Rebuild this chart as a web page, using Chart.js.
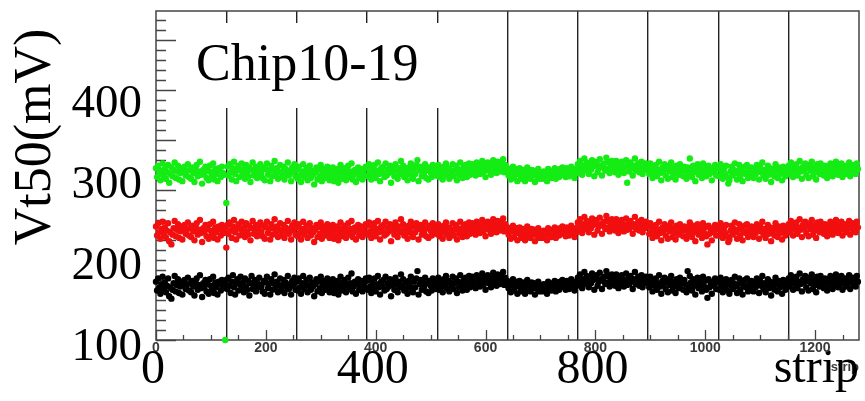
<!DOCTYPE html>
<html>
<head>
<meta charset="utf-8">
<title>Vt50 per strip</title>
<script src="https://cdn.jsdelivr.net/npm/chart.js@4.4.1/dist/chart.umd.min.js"></script>
<style>
  html, body { margin: 0; padding: 0; background: #fff; }
  #wrap { width: 865px; height: 401px; }
</style>
</head>
<body>
<div id="wrap"><canvas id="vt50Chart" width="865" height="401"></canvas></div>
<script>
// Vt50 (mV) measured on every second strip, 10 chips x 128 strips
const STRIP_STEP = 2;

const green = [
  312,301,315,305,297,309,318,303,311,299,307,316,294,305,313,302,310,319,300,308,315,298,306,312,296,309,314,303,308,317,301,310,
  299,313,306,295,311,316,302,308,320,304,293,310,305,314,300,309,297,315,307,303,318,298,311,305,296,312,309,301,314,306,304,100,
  269,314,303,317,307,298,312,320,305,296,310,315,301,309,318,304,311,299,316,306,302,313,295,310,319,303,308,314,300,311,305,317,
  306,300,313,297,311,318,304,309,296,315,302,310,321,305,312,299,308,316,301,307,314,298,311,305,319,303,309,296,313,307,317,302,
  310,299,314,303,295,308,317,301,306,312,297,305,315,300,309,304,292,307,313,298,310,302,316,296,306,311,300,308,314,303,297,309,
  302,313,296,307,300,311,294,305,316,299,309,303,312,297,306,315,301,308,318,298,304,310,295,307,313,300,305,311,298,309,303,314,
  313,302,317,306,298,311,304,316,300,309,319,305,296,312,307,314,301,318,303,310,306,315,294,308,313,302,317,309,299,312,305,321,
  307,315,301,311,304,297,313,308,318,303,299,312,305,316,322,296,309,314,302,311,306,317,300,310,298,313,307,301,316,305,311,303,
  308,316,301,311,305,298,314,308,318,303,312,299,310,306,317,302,309,315,297,311,304,319,308,300,313,306,316,301,310,318,304,312,
  317,308,314,303,319,310,315,305,312,321,307,316,301,313,319,309,317,304,314,322,310,316,306,320,313,308,318,311,323,307,316,312,
  312,303,309,298,307,314,300,306,311,296,305,312,299,306,310,301,296,307,313,300,305,299,310,303,309,295,306,302,311,299,307,304,
  299,308,302,306,296,311,303,307,300,309,304,312,299,306,310,301,311,304,313,306,309,301,312,306,302,310,314,304,308,300,311,306,
  317,308,321,311,304,315,324,309,319,313,305,318,310,322,314,302,316,320,307,312,323,315,303,313,318,309,325,311,319,306,314,321,
  311,318,307,321,313,304,317,310,320,315,306,313,322,294,316,308,319,312,303,315,324,309,314,318,307,312,320,305,316,310,318,312,
  314,305,318,308,300,312,307,316,302,310,320,306,297,313,309,317,303,311,299,315,308,319,301,312,306,298,315,310,304,317,309,313,
  302,314,309,299,313,305,324,311,301,315,307,296,310,317,304,312,308,300,318,306,313,302,310,315,305,309,297,312,307,316,303,311,
  313,302,317,307,299,311,305,315,301,293,297,308,314,303,310,318,306,298,309,316,302,311,296,307,314,305,316,300,309,303,313,308,
  300,311,305,316,309,298,313,307,319,303,310,299,308,315,304,312,295,307,311,302,317,309,300,313,305,310,297,314,307,302,312,309,
  315,305,319,310,301,313,308,317,303,311,321,308,299,314,310,318,304,312,300,316,309,320,302,313,307,298,317,311,305,318,309,314,
  303,315,309,300,314,306,318,311,302,316,308,320,312,304,314,308,318,301,311,315,305,313,309,319,302,311,316,307,313,305,318,311
];

const red = [
  240,229,244,233,225,237,246,231,239,227,235,244,222,233,218,230,238,247,228,236,243,226,234,240,224,237,242,231,236,245,229,238,
  227,241,234,223,239,244,230,236,248,232,221,238,233,242,228,237,225,243,235,231,246,226,239,233,224,240,237,229,242,234,232,238,
  214,242,231,245,235,226,240,248,233,224,238,243,229,237,246,232,239,227,244,234,230,241,223,238,247,231,236,242,228,239,233,245,
  234,228,241,225,239,246,232,237,224,243,230,238,249,233,240,227,236,244,229,235,242,226,239,233,247,231,237,224,241,235,245,230,
  239,228,243,232,224,237,246,230,235,241,226,234,244,229,238,233,221,236,242,227,239,231,245,225,235,240,229,237,243,232,226,238,
  231,242,225,236,229,240,223,234,245,228,238,232,241,226,235,244,230,237,247,227,233,239,224,236,242,229,234,240,227,238,232,243,
  241,230,245,234,226,239,232,244,228,237,247,233,224,240,235,242,229,246,231,238,234,243,222,236,241,230,245,237,227,240,233,249,
  235,243,229,239,232,225,241,236,246,231,227,240,233,244,238,224,237,242,230,239,234,245,228,238,226,241,235,229,244,233,239,231,
  235,243,228,238,232,225,241,235,245,230,239,226,237,233,244,229,236,242,224,238,231,246,235,227,240,233,243,228,237,245,231,239,
  244,235,241,230,246,237,242,232,239,248,234,243,228,240,246,236,244,231,241,249,237,243,233,247,240,235,245,238,250,234,243,239,
  239,230,236,225,234,241,227,233,238,223,232,239,226,233,237,228,223,234,240,227,232,226,237,230,236,222,233,229,238,226,234,231,
  226,235,229,233,223,238,230,234,227,236,231,239,226,233,237,229,238,231,240,233,236,228,239,233,229,237,241,231,235,227,238,233,
  245,236,249,239,232,243,252,237,247,241,233,246,238,250,242,230,244,248,235,240,251,243,231,241,246,237,253,239,247,234,242,249,
  239,246,235,249,241,232,245,238,248,243,234,241,250,236,244,237,247,240,231,243,252,237,242,246,235,240,248,233,244,238,246,240,
  240,231,244,234,226,238,233,242,228,236,246,232,223,239,235,243,229,237,225,241,234,245,227,238,232,224,241,236,230,243,235,239,
  228,240,235,225,239,231,245,237,227,241,233,222,236,243,230,238,234,226,244,232,239,228,218,241,231,235,223,238,233,242,229,237,
  240,229,244,234,226,238,232,242,228,221,224,235,241,230,237,245,233,225,236,243,229,238,223,234,241,232,243,227,236,230,240,235,
  227,238,232,243,236,225,240,234,246,230,237,226,235,242,231,239,222,234,238,229,244,236,227,240,232,237,224,241,234,229,239,236,
  243,233,247,238,229,241,236,245,231,239,249,236,227,242,238,246,232,240,228,244,237,248,230,241,235,226,245,239,233,246,237,242,
  231,243,237,228,242,234,246,239,230,244,236,248,240,232,242,236,246,229,239,243,233,241,237,247,230,239,244,235,241,233,246,239
];

const black = [
  172,161,176,165,157,169,178,163,171,159,167,176,154,165,151,162,170,179,160,168,175,158,166,172,156,169,174,163,168,177,161,170,
  159,173,166,155,171,176,162,168,180,164,153,170,165,174,160,169,157,175,167,163,178,158,171,165,156,172,169,161,174,166,164,170,
  174,163,177,167,158,172,180,165,156,170,175,161,169,178,164,171,159,176,166,162,173,155,170,179,163,168,174,160,171,165,177,168,
  166,160,173,157,171,178,164,169,156,175,162,170,181,165,172,159,168,176,161,167,174,158,171,165,179,163,169,156,173,167,177,162,
  172,161,176,165,157,170,179,163,168,174,159,167,177,162,171,166,154,169,175,160,172,164,178,158,168,173,162,170,176,165,159,171,
  164,175,158,169,162,173,156,167,178,161,171,165,174,159,168,177,163,170,182,160,166,172,157,169,175,162,167,173,160,171,165,176,
  173,162,177,166,158,171,164,176,160,169,179,165,156,172,167,174,161,178,163,170,166,175,154,168,173,162,177,169,159,172,165,181,
  167,175,161,171,164,157,173,168,178,163,159,172,165,176,185,156,169,174,162,171,166,177,160,170,158,173,167,161,176,165,171,163,
  169,177,162,172,166,159,175,169,179,164,173,160,171,167,178,163,170,176,158,172,165,180,169,161,174,167,177,162,171,179,165,173,
  178,169,175,164,180,171,176,166,173,182,168,177,162,174,180,170,178,165,175,183,171,177,167,181,174,169,179,172,184,168,177,173,
  173,164,170,159,168,175,161,167,172,157,166,173,160,167,171,162,157,168,174,161,166,160,171,164,170,156,167,163,172,160,168,165,
  160,169,163,167,157,172,164,168,161,170,165,173,160,167,171,162,172,165,174,167,170,162,173,167,163,171,175,165,169,161,172,167,
  177,168,181,171,164,175,184,169,179,173,165,178,170,182,174,162,176,180,167,172,183,175,163,173,178,169,185,171,179,166,174,181,
  171,178,167,181,173,164,177,170,180,175,166,173,182,168,176,169,179,172,163,175,184,169,174,178,167,172,180,165,176,170,178,172,
  174,165,178,168,160,172,167,176,162,170,180,166,157,173,169,177,163,171,159,175,168,179,161,172,166,158,175,170,164,177,169,173,
  162,174,169,159,185,165,179,171,161,175,167,156,170,177,164,172,168,160,178,166,173,162,152,175,165,169,157,172,167,176,163,171,
  173,162,177,167,159,171,165,175,161,169,157,168,174,163,170,178,166,158,169,176,162,171,156,167,174,165,176,160,169,163,173,168,
  160,171,165,176,169,158,173,167,179,163,170,159,168,175,164,172,155,167,171,162,177,169,160,173,165,170,157,174,167,162,172,169,
  176,166,180,171,162,174,169,178,164,172,182,169,160,175,171,179,165,173,161,177,170,181,163,174,168,159,178,172,166,179,170,175,
  164,176,170,161,175,167,179,172,163,177,169,181,173,165,175,169,179,162,172,176,166,174,170,180,163,172,177,168,174,166,179,172
];

// axis ticks
const yTickLabels = [100, 200, 300, 400];
const xSmallTicks = [0, 200, 400, 600, 800, 1000, 1200];
const xBigTicks = [0, 400, 800];
const chipEdges = [128, 256, 384, 512, 640, 768, 896, 1024, 1152];

const SERIF = '"Liberation Serif", "Times New Roman", serif';
const SANS = '"Liberation Sans", Arial, sans-serif';

function toPoints(values) {
  return values.map((v, i) => ({ x: i * STRIP_STEP, y: v }));
}

function setTicks(list) {
  return scale => { scale.ticks = list.map(v => ({ value: v })); };
}

const plainLabel = v => String(v);

// ROOT-like frame with inward ticks, drawn under the points
const frameTicks = {
  id: 'frameTicks',
  beforeDatasetsDraw(chart) {
    const { ctx, chartArea: a, scales } = chart;
    ctx.save();
    ctx.strokeStyle = '#444';
    ctx.lineWidth = 1.5;
    ctx.strokeRect(a.left, a.top, a.right - a.left, a.bottom - a.top);

    ctx.lineWidth = 1.3;
    ctx.beginPath();
    // y: 5 minor divisions per primary
    const yMinor = 12.35;
    for (let i = 0, v = scales.y.min; v <= scales.y.max; i++, v = scales.y.min + i * yMinor) {
      const py = Math.round(scales.y.getPixelForValue(v)) + 0.5;
      const len = i % 5 === 0 ? 20 : 10;
      ctx.moveTo(a.left, py);
      ctx.lineTo(a.left + len, py);
    }
    // x: majors every 200 strips, minors every 50
    for (let s = 0; s <= scales.x.max; s += 50) {
      const px = Math.round(scales.x.getPixelForValue(s)) + 0.5;
      const len = s % 200 === 0 ? 10 : 5;
      ctx.moveTo(px, a.bottom);
      ctx.lineTo(px, a.bottom - len);
    }
    ctx.stroke();
    ctx.restore();
  },
  afterDatasetsDraw(chart) {
    const { ctx } = chart;
    ctx.save();
    // label box
    ctx.fillStyle = '#fff';
    ctx.fillRect(185, 23, 275, 85);
    ctx.fillStyle = '#000';
    ctx.font = '52px ' + SERIF;
    ctx.textAlign = 'left';
    ctx.textBaseline = 'alphabetic';
    ctx.fillText('Chip10-19', 196, 80);

    // y title
    ctx.translate(50, 137);
    ctx.rotate(-Math.PI / 2);
    ctx.textAlign = 'center';
    ctx.font = '52px ' + SERIF;
    ctx.fillText('Vt50(mV)', 0, 0);
    ctx.restore();
  }
};

const pointStyle = color => ({
  pointRadius: 3.2,
  pointHoverRadius: 3.2,
  pointBackgroundColor: color,
  pointBorderColor: color,
  pointBorderWidth: 0,
  showLine: false,
  clip: false
});

new Chart(document.getElementById('vt50Chart'), {
  type: 'scatter',
  data: {
    datasets: [
      { label: 'black', data: toPoints(black), ...pointStyle('#000000') },
      { label: 'red', data: toPoints(red), ...pointStyle('#f20f0f') },
      { label: 'green', data: toPoints(green), ...pointStyle('#14ec14') }
    ]
  },
  options: {
    responsive: false,
    animation: false,
    devicePixelRatio: 1,
    layout: { padding: { top: 11, right: 6, left: 0, bottom: 0 } },
    plugins: {
      legend: { display: false },
      tooltip: { enabled: false }
    },
    scales: {
      x: {
        type: 'linear',
        position: 'bottom',
        min: 0,
        max: 1280,
        afterBuildTicks: setTicks(xSmallTicks),
        afterFit: scale => { scale.height = 14; },
        grid: { display: false, drawTicks: false },
        border: { display: false },
        ticks: {
          padding: 0,
          autoSkip: false,
          callback: plainLabel,
          color: '#3a3a3a',
          font: { family: SANS, size: 14, weight: 'bold' },
          maxRotation: 0
        },
        title: {
          display: true,
          text: 'strip',
          align: 'end',
          color: '#3a3a3a',
          font: { family: SANS, size: 13, weight: 'bold' },
          padding: { top: 0, bottom: -21 }
        }
      },
      xBig: {
        type: 'linear',
        position: 'bottom',
        min: 0,
        max: 1280,
        afterBuildTicks: setTicks(xBigTicks),
        afterFit: scale => { scale.height = 47; },
        grid: { display: false, drawTicks: false },
        border: { display: false },
        ticks: {
          // mirrored labels are not clipped to the axis box
          mirror: true,
          padding: -45,
          autoSkip: false,
          callback: plainLabel,
          labelOffset: -3,
          color: '#000',
          font: { family: SERIF, size: 48 },
          maxRotation: 0
        },
        title: {
          display: true,
          text: 'strip',
          align: 'end',
          color: '#000',
          font: { family: SERIF, size: 48 },
          padding: { top: 0, bottom: 3 }
        }
      },
      xChip: {
        type: 'linear',
        position: 'bottom',
        min: 0,
        max: 1280,
        afterBuildTicks: setTicks(chipEdges),
        afterFit: scale => { scale.height = 0; },
        grid: { drawOnChartArea: true, drawTicks: false, color: '#222', lineWidth: 1.4 },
        border: { display: false },
        ticks: { display: false }
      },
      y: {
        type: 'linear',
        min: 100,
        max: 506,
        afterBuildTicks: setTicks(yTickLabels),
        afterFit: scale => {
          scale.width = 156;
          scale.paddingTop = 0;
          scale.paddingBottom = 0;
        },
        grid: { display: false, drawTicks: false },
        border: { display: false },
        ticks: {
          padding: 14,
          labelOffset: 8,
          color: '#000',
          font: { family: SERIF, size: 47 }
        }
      }
    }
  },
  plugins: [frameTicks]
});
</script>
</body>
</html>
